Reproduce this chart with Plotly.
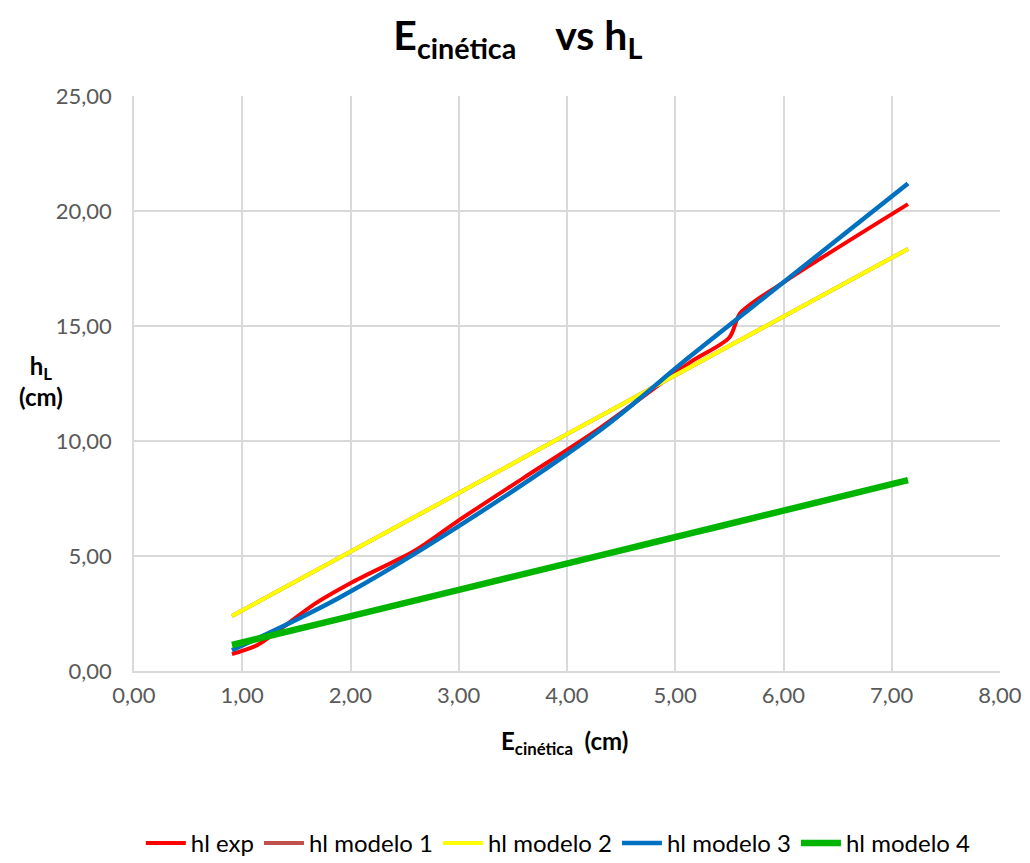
import plotly.graph_objects as go

# Data
x_exp = [0.905, 1.14, 1.38, 1.68, 2.02, 2.6, 3.0, 3.6, 4.3, 5.13, 5.5, 5.6, 6.0, 7.15]
y_exp = [0.74, 1.13, 1.92, 2.95, 3.87, 5.25, 6.55, 8.4, 10.55, 13.4, 14.5, 15.55, 16.9, 20.3]

x_mod = [0.905, 1.9, 3.0, 4.3, 5.13, 6.0, 7.15]
y_mod1 = [2.39, 4.93, 7.74, 11.07, 13.19, 15.41, 18.35]
y_mod2 = [2.39, 4.93, 7.74, 11.07, 13.19, 15.41, 18.35]
y_mod3 = [0.9, 3.2, 6.3, 10.45, 13.65, 16.9, 21.2]
y_mod4 = [1.13, 2.27, 3.53, 5.02, 5.97, 6.97, 8.3]

x_ticks = [0, 1, 2, 3, 4, 5, 6, 7, 8]
y_ticks = [0, 5, 10, 15, 20, 25]

FONT = "Lato"
fig = go.Figure()
fig.add_trace(go.Scatter(x=x_exp, y=y_exp, name="hl exp", mode="lines",
                         line=dict(color="#FF0000", width=4, shape="spline", smoothing=0.8)))
fig.add_trace(go.Scatter(x=x_mod, y=y_mod1, name="hl modelo 1", mode="lines",
                         line=dict(color="#C0504D", width=4, shape="spline")))
fig.add_trace(go.Scatter(x=x_mod, y=y_mod2, name="hl modelo 2", mode="lines",
                         line=dict(color="#FFFF00", width=4, shape="spline")))
fig.add_trace(go.Scatter(x=x_mod, y=y_mod3, name="hl modelo 3", mode="lines",
                         line=dict(color="#0070C0", width=4.5, shape="spline")))
fig.add_trace(go.Scatter(x=x_mod, y=y_mod4, name="hl modelo 4", mode="lines",
                         line=dict(color="#00B400", width=6.5, shape="spline")))

axis_common = dict(showgrid=True, gridcolor="#D9D9D9", gridwidth=1.5, zeroline=False,
                   showline=True, linecolor="#D9D9D9", linewidth=1.5,
                   tickformat=".2f", ticks="", ticklen=0,
                   tickfont=dict(family=FONT, size=22, color="#595959"))

fig.update_layout(
    width=1030, height=863,
    paper_bgcolor="white", plot_bgcolor="white",
    separators=",.",
    margin=dict(l=126, r=38, t=88, b=200, autoexpand=False),
    title=dict(text="<b>E<sub>cinética</sub>&nbsp;&nbsp;&nbsp;&nbsp;vs h<sub>L</sub></b>",
               x=0.495, xanchor="center", y=0.968, yanchor="middle",
               font=dict(family=FONT, size=41, color="#000000")),
    xaxis=dict(range=[0, 8], tickvals=x_ticks, ticklabelstandoff=4, **axis_common),
    yaxis=dict(range=[0, 25], tickvals=y_ticks, ticklabelstandoff=16, **axis_common),
    legend=dict(orientation="h", x=0.49, xanchor="center", y=-0.3, yanchor="middle",
                font=dict(family=FONT, size=24, color="#000000"),
                itemwidth=40, tracegroupgap=0),
    showlegend=True,
)

fig.add_annotation(text="<b>E<sub>cinética</sub>&nbsp;&nbsp;(cm)</b>", xref="paper", yref="paper",
                   x=0.497, y=-0.125, xanchor="center", yanchor="middle", showarrow=False,
                   font=dict(family=FONT, size=24, color="#000000"))
fig.add_annotation(text="<b>h<sub>L</sub><br>(cm)</b>", xref="paper", yref="paper",
                   x=-0.107, y=0.505, xanchor="center", yanchor="middle", showarrow=False,
                   align="center", font=dict(family=FONT, size=24, color="#000000"))

fig.write_html("out.html")
